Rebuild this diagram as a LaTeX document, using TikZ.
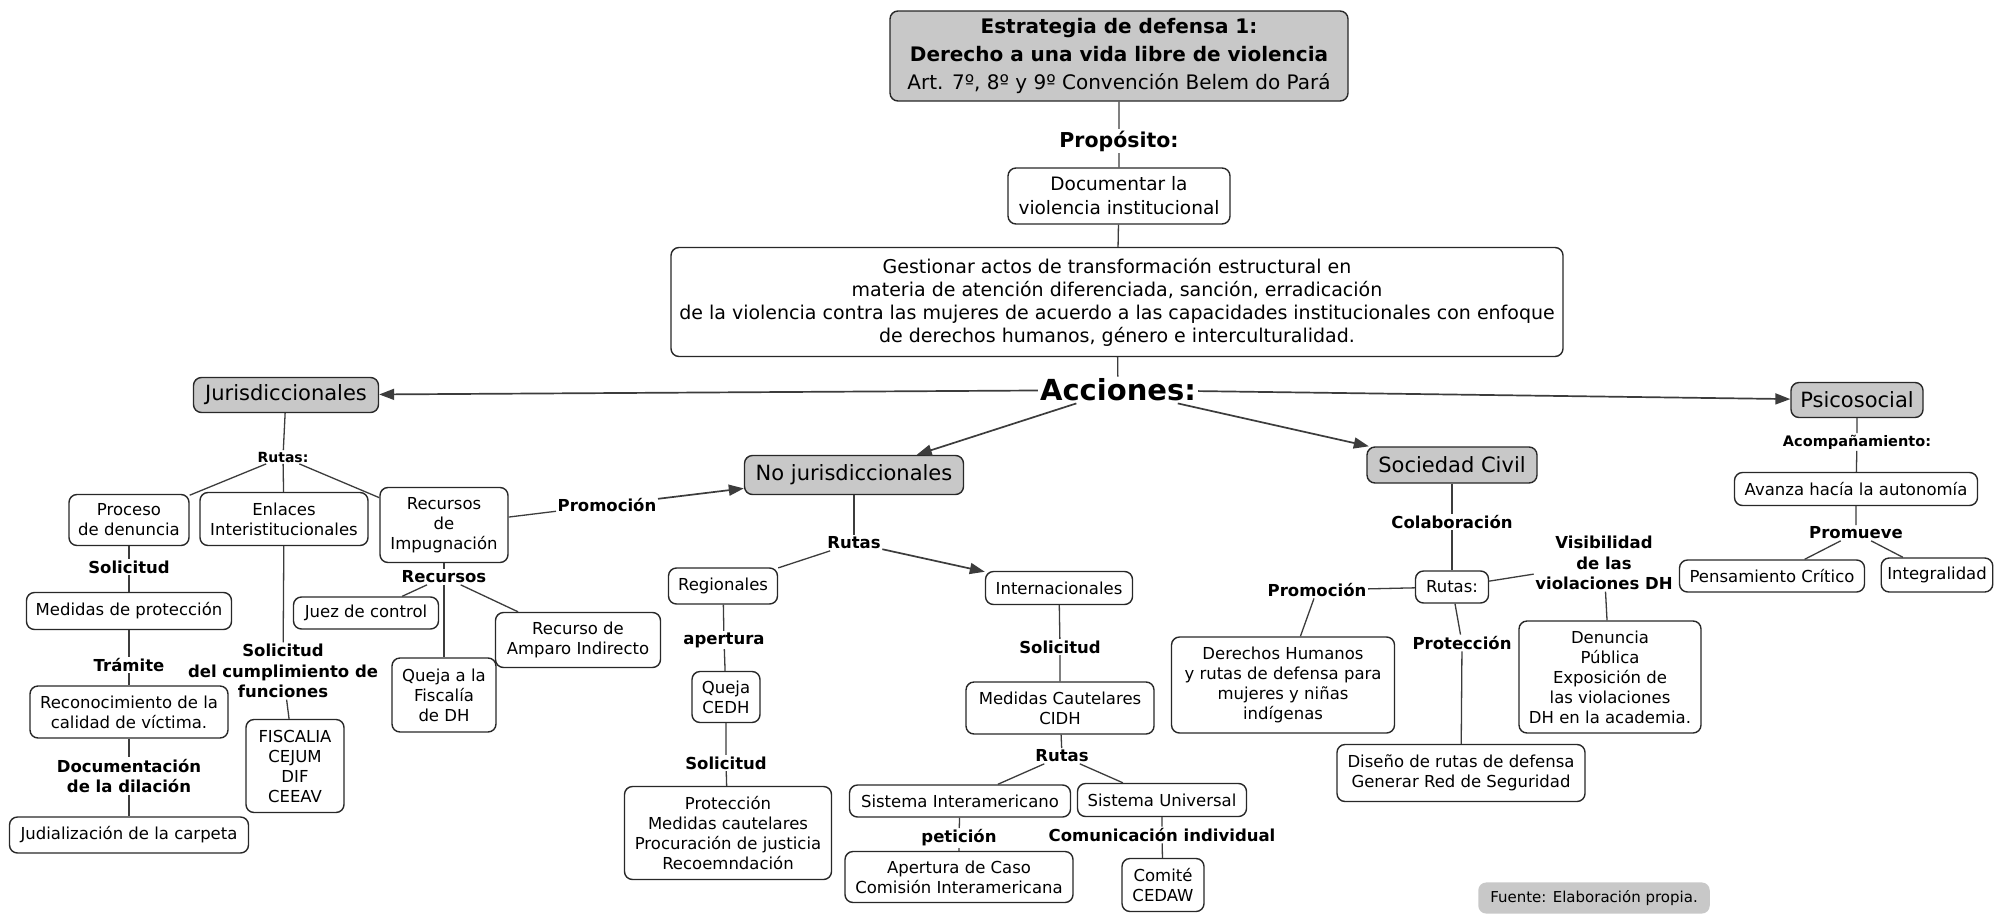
\documentclass[tikz,border=0pt]{standalone}
\usepackage{fontspec}
\setmainfont{DejaVu Sans}
\usetikzlibrary{arrows.meta}
\definecolor{hdrgray}{RGB}{200,200,200}
\definecolor{edge}{RGB}{40,40,40}
\definecolor{wire}{RGB}{60,60,60}

\begin{document}
\begin{tikzpicture}[x=1pt,y=-1pt,
  box/.style={draw=edge, line width=1.4pt, rounded corners=8pt, fill=white, align=center,
              inner xsep=6pt, inner ysep=4pt, font=\fontsize{16.5}{20}\selectfont},
  hdr/.style={box, fill=hdrgray, font=\fontsize{21}{25}\selectfont},
  lbl/.style={align=center, inner sep=1.5pt, font=\bfseries\fontsize{16.5}{20.5}\selectfont},
  sz/.style 2 args={minimum width=#1pt, minimum height=#2pt},
  conn/.style={draw=wire, line width=1.3pt},
  arr/.style={conn, line width=1.7pt, -{Triangle[length=15pt,width=11pt]}},
]
\fill[white] (0,0) rectangle (2001,921);
\useasboundingbox (0,0) rectangle (2001,921);

% ---------- top: strategy, purpose and objective ----------
\node[box, fill=hdrgray, sz={458}{90}, font=\fontsize{20}{28}\selectfont] (title) at (1119,56)
  {\textbf{Estrategia de defensa 1:}\\ \textbf{Derecho a una vida libre de violencia}\\ Art. 7º, 8º y 9º Convención Belem do Pará};
\node[lbl, font=\bfseries\fontsize{20.5}{24}\selectfont] (prop) at (1119,141) {Propósito:};
\node[box, sz={222}{56}, font=\fontsize{18.5}{24}\selectfont] (doc) at (1119,196) {Documentar la\\violencia institucional};
\node[box, sz={892}{109}, font=\fontsize{19}{23}\selectfont] (gest) at (1117,302)
  {Gestionar actos de transformación estructural en\\
   materia de atención diferenciada, sanción, erradicación\\
   de la violencia contra las mujeres de acuerdo a las capacidades institucionales con enfoque\\
   de derechos humanos, género e interculturalidad.};
\node[lbl, font=\bfseries\fontsize{29}{33}\selectfont, inner sep=2pt] (acc) at (1118,390) {Acciones:};

% ---------- four lines of action ----------
\node[hdr, sz={185}{35}] (jur) at (286,395) {Jurisdiccionales};
\node[hdr, sz={219}{39}] (nojur) at (854,475) {No jurisdiccionales};
\node[hdr, sz={170}{36}] (soc) at (1452,465) {Sociedad Civil};
\node[hdr, sz={132}{35}] (psico) at (1857,400) {Psicosocial};

% ---------- jurisdiccionales ----------
\node[lbl, font=\bfseries\fontsize{14}{17}\selectfont] (rj) at (283,457) {Rutas:};
\node[box, sz={120}{51}] (proc) at (129,520) {Proceso\\de denuncia};
\node[box, sz={168}{53}] (enl) at (284,519) {Enlaces\\Interistitucionales};
\node[box, sz={128}{75}] (rimp) at (444,525) {Recursos\\de\\Impugnación};
\node[lbl] (sol1) at (129,567) {Solicitud};
\node[box, sz={205}{37}] (medp) at (129,611) {Medidas de protección};
\node[lbl] (tram) at (129,665) {Trámite};
\node[box, sz={198}{52}] (reco) at (129,712) {Reconocimiento de la\\calidad de víctima.};
\node[lbl] (docu) at (129,776) {Documentación\\de la dilación};
\node[box, sz={239}{36}] (judi) at (129,835) {Judialización de la carpeta};
\node[lbl] (sol2) at (283,671) {Solicitud\\del cumplimiento de\\funciones};
\node[box, sz={98}{93}] (fisc) at (295,766) {FISCALIA\\CEJUM\\DIF\\CEEAV};
\node[lbl] (recu) at (444,577) {Recursos};
\node[box, sz={145}{32}] (juez) at (366,613) {Juez de control};
\node[box, sz={165}{55}] (ampa) at (578,640) {Recurso de\\Amparo Indirecto};
\node[box, sz={104}{74}] (quej) at (444,695) {Queja a la\\Fiscalía\\de DH};
\node[lbl] (prom1) at (607,505) {Promoción};

% ---------- no jurisdiccionales ----------
\node[lbl] (rn) at (854,543) {Rutas};
\node[box, sz={109}{36}] (regi) at (723,586) {Regionales};
\node[box, sz={147}{33}] (inte) at (1059,588) {Internacionales};
\node[lbl] (aper) at (724,640) {apertura};
\node[box, sz={68}{51}] (qced) at (726,697) {Queja\\CEDH};
\node[lbl] (sol3) at (726,763) {Solicitud};
\node[box, sz={207}{93}] (prot) at (728,833) {Protección\\Medidas cautelares\\Procuración de justicia\\Recoemndación};
\node[lbl] (sol4) at (1060,647) {Solicitud};
\node[box, sz={188}{52}] (mcau) at (1060,708) {Medidas Cautelares\\CIDH};
\node[lbl] (rn2) at (1062,756) {Rutas};
\node[box, sz={221}{32}] (sint) at (960,801) {Sistema Interamericano};
\node[box, sz={169}{33}] (suni) at (1162,800) {Sistema Universal};
\node[lbl] (peti) at (959,838) {petición};
\node[box, sz={228}{51}] (acas) at (959,877) {Apertura de Caso\\Comisión Interamericana};
\node[lbl] (comu) at (1162,835) {Comunicación individual};
\node[box, sz={82}{53}] (comi) at (1163,885) {Comité\\CEDAW};

% ---------- sociedad civil ----------
\node[lbl] (cola) at (1452,522) {Colaboración};
\node[box, sz={73}{32}] (rs) at (1452,587) {Rutas:};
\node[lbl] (prom2) at (1317,590) {Promoción};
\node[box, sz={223}{96}] (dh) at (1283,685) {Derechos Humanos\\y rutas de defensa para\\mujeres y niñas\\indígenas};
\node[lbl] (prot2) at (1462,643) {Protección};
\node[box, sz={248}{57}] (dise) at (1461,773) {Diseño de rutas de defensa\\Generar Red de Seguridad};
\node[lbl] (visi) at (1604,563) {Visibilidad\\de las\\violaciones DH};
\node[box, sz={182}{112}] (denu) at (1610,677) {Denuncia\\Pública\\Exposición de\\las violaciones\\DH en la academia.};

% ---------- psicosocial ----------
\node[lbl, font=\bfseries\fontsize{14.5}{17}\selectfont] (acom) at (1857,442) {Acompañamiento:};
\node[box, sz={243}{33}] (avan) at (1856,489) {Avanza hacía la autonomía};
\node[lbl] (prmv) at (1856,533) {Promueve};
\node[box, sz={185}{32}] (pens) at (1772,576) {Pensamiento Crítico};
\node[box, sz={110}{34}] (integ) at (1937,575) {Integralidad};

% ---------- source note ----------
\node[fill=hdrgray, rounded corners=8pt, inner xsep=12pt, inner ysep=8pt,
      font=\fontsize{15}{18}\selectfont] (fuente) at (1594,898) {Fuente: Elaboración propia.};

% ---------- connectors ----------
\draw[conn] (title) -- (prop) -- (doc) -- (gest) -- (acc);
\draw[arr] (acc) -- (jur);
\draw[arr] (acc) -- (nojur);
\draw[arr] (acc) -- (soc);
\draw[arr] (acc) -- (psico);

\draw[conn] (jur) -- (rj);
\draw[conn] (rj) -- (proc);
\draw[conn] (rj) -- (enl);
\draw[conn] (rj) -- (rimp);
\draw[conn] (proc) -- (sol1) -- (medp) -- (tram) -- (reco) -- (docu) -- (judi);
\draw[conn] (enl) -- (sol2) -- (fisc);
\draw[conn] (rimp) -- (recu);
\draw[conn] (recu) -- (juez);
\draw[conn] (recu) -- (quej);
\draw[conn] (recu) -- (ampa);
\draw[conn] (rimp) -- (prom1);
\draw[arr] (prom1) -- (nojur);

\draw[conn] (nojur) -- (rn);
\draw[conn] (rn) -- (regi);
\draw[arr] (rn) -- (inte);
\draw[conn] (regi) -- (aper) -- (qced) -- (sol3) -- (prot);
\draw[conn] (inte) -- (sol4) -- (mcau) -- (rn2);
\draw[conn] (rn2) -- (sint);
\draw[conn] (rn2) -- (suni);
\draw[conn] (sint) -- (peti) -- (acas);
\draw[conn] (suni) -- (comu) -- (comi);

\draw[conn] (soc) -- (cola) -- (rs);
\draw[conn] (rs) -- (prom2) -- (dh);
\draw[conn] (rs) -- (prot2) -- (dise);
\draw[conn] (rs) -- (visi) -- (denu);

\draw[conn] (psico) -- (acom) -- (avan) -- (prmv);
\draw[conn] (prmv) -- (pens);
\draw[conn] (prmv) -- (integ);
\end{tikzpicture}
\end{document}
